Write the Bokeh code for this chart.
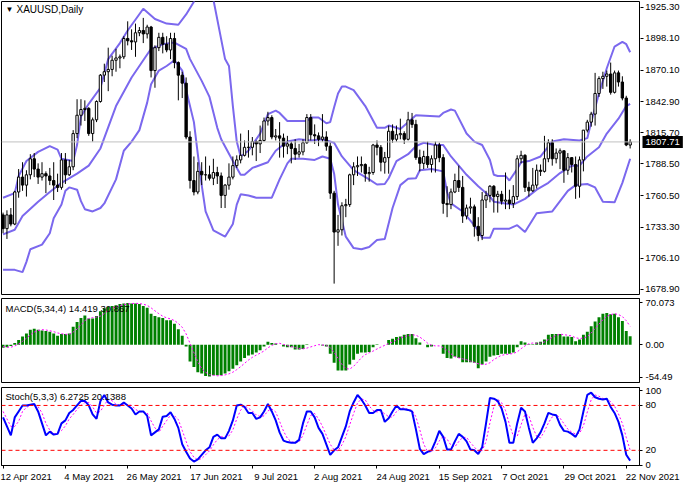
from bokeh.plotting import figure
from bokeh.models import Range1d, FixedTicker, Span, Label
from bokeh.layouts import column, row
from bokeh.embed import file_html
from bokeh.resources import INLINE

# ---------------- data ----------------
symbol_title = "XAUUSD,Daily"
macd_title = "MACD(5,34,4) 14.419 30.867"
stoch_title = "Stoch(5,3,3) 6.2725 20.1388"
last_price = 1807.71

date_tick_idx = [0, 16, 32, 48, 64, 80, 96, 112, 128, 144, 160]
date_tick_labels = ["12 Apr 2021", "4 May 2021", "26 May 2021", "17 Jun 2021", "9 Jul 2021",
                    "2 Aug 2021", "24 Aug 2021", "15 Sep 2021", "7 Oct 2021", "29 Oct 2021",
                    "22 Nov 2021"]
price_ticks = [1678.90, 1706.10, 1733.30, 1760.50, 1788.50, 1815.70, 1842.90, 1870.10, 1898.10, 1925.30]
price_tick_labels = ["1678.90", "1706.10", "1733.30", "1760.50", "1788.50", "1815.70",
                     "1842.90", "1870.10", "1898.10", "1925.30"]
macd_ticks = [-54.49, 0.0, 70.073]
macd_tick_labels = ["-54.49", "0.00", "70.073"]
stoch_ticks = [0, 20, 80, 100]
stoch_tick_labels = ["0", "20", "80", "100"]
stoch_levels = [20, 80]

open_ = [1744, 1732, 1744, 1736, 1764, 1777, 1770, 1779, 1793, 1784,
         1777, 1780, 1778, 1774, 1770, 1768, 1792, 1779, 1786, 1815,
         1831, 1836, 1837, 1815, 1827, 1843, 1866, 1869, 1871, 1879,
         1881, 1882, 1898, 1896, 1895, 1903, 1905, 1902, 1908, 1870,
         1890, 1899, 1893, 1888, 1898, 1877, 1866, 1859, 1812, 1774,
         1764, 1782, 1779, 1779, 1776, 1781, 1778, 1761, 1770, 1777,
         1787, 1792, 1796, 1803, 1803, 1808, 1806, 1809, 1826, 1829,
         1812, 1813, 1811, 1804, 1806, 1802, 1797, 1799, 1807, 1829,
         1814, 1813, 1810, 1812, 1804, 1763, 1729, 1731, 1752, 1753,
         1779, 1786, 1787, 1788, 1780, 1781, 1805, 1803, 1790, 1794,
         1817, 1810, 1814, 1815, 1810, 1827, 1823, 1794, 1789, 1795,
         1788, 1793, 1805, 1794, 1754, 1753, 1764, 1774, 1768, 1743,
         1750, 1751, 1734, 1726, 1757, 1761, 1769, 1760, 1762, 1756,
         1757, 1754, 1760, 1793, 1796, 1768, 1765, 1770, 1783, 1782,
         1793, 1807, 1793, 1798, 1800, 1783, 1794, 1788, 1769, 1792,
         1818, 1825, 1832, 1850, 1863, 1865, 1867, 1851, 1868, 1860,
         1846, 1805]
high = [1746, 1748, 1750, 1765, 1784, 1790, 1783, 1797, 1798, 1789,
        1790, 1782, 1785, 1790, 1780, 1798, 1798, 1792, 1818, 1845,
        1845, 1844, 1838, 1829, 1844, 1867, 1876, 1890, 1883, 1889,
        1884, 1900, 1913, 1906, 1911, 1908, 1916, 1910, 1909, 1892,
        1903, 1903, 1900, 1903, 1903, 1878, 1869, 1864, 1817, 1795,
        1790, 1790, 1795, 1787, 1793, 1786, 1781, 1771, 1789, 1795,
        1796, 1815, 1809, 1818, 1812, 1809, 1822, 1829, 1834, 1831,
        1819, 1825, 1815, 1813, 1808, 1810, 1806, 1810, 1832, 1832,
        1823, 1816, 1832, 1817, 1807, 1765, 1744, 1755, 1758, 1780,
        1790, 1795, 1795, 1789, 1786, 1806, 1809, 1805, 1799, 1822,
        1823, 1822, 1828, 1817, 1834, 1833, 1827, 1801, 1800, 1808,
        1796, 1808, 1807, 1797, 1769, 1767, 1780, 1787, 1778, 1753,
        1759, 1753, 1742, 1764, 1765, 1770, 1770, 1765, 1765, 1781,
        1766, 1770, 1796, 1800, 1797, 1773, 1785, 1788, 1788, 1813,
        1810, 1810, 1802, 1802, 1800, 1798, 1794, 1795, 1795, 1818,
        1827, 1834, 1868, 1865, 1869, 1870, 1877, 1870, 1870, 1865,
        1848, 1810]
low = [1728, 1723, 1734, 1735, 1759, 1765, 1760, 1775, 1777, 1771,
       1774, 1763, 1770, 1757, 1764, 1766, 1771, 1778, 1783, 1811,
       1822, 1826, 1813, 1808, 1825, 1842, 1860, 1852, 1865, 1869,
       1872, 1880, 1892, 1888, 1882, 1900, 1894, 1898, 1864, 1855,
       1887, 1885, 1886, 1880, 1872, 1844, 1846, 1810, 1767, 1761,
       1762, 1770, 1774, 1774, 1770, 1771, 1750, 1750, 1766, 1775,
       1785, 1789, 1795, 1794, 1796, 1791, 1798, 1808, 1822, 1810,
       1809, 1794, 1794, 1797, 1789, 1792, 1794, 1796, 1806, 1809,
       1806, 1804, 1808, 1800, 1758, 1684, 1717, 1726, 1742, 1751,
       1770, 1778, 1781, 1773, 1773, 1779, 1796, 1782, 1780, 1780,
       1807, 1808, 1810, 1806, 1809, 1820, 1792, 1782, 1784, 1785,
       1781, 1781, 1790, 1745, 1742, 1749, 1763, 1764, 1737, 1740,
       1745, 1725, 1721, 1722, 1750, 1755, 1746, 1746, 1753, 1749,
       1749, 1750, 1757, 1789, 1764, 1760, 1764, 1767, 1778, 1781,
       1790, 1787, 1789, 1784, 1772, 1779, 1781, 1758, 1759, 1782,
       1816, 1821, 1822, 1847, 1854, 1856, 1849, 1850, 1856, 1844,
       1804, 1802]
close = [1732, 1744, 1736, 1764, 1777, 1770, 1779, 1793, 1784, 1777,
         1780, 1778, 1774, 1770, 1768, 1792, 1779, 1786, 1815, 1831,
         1836, 1837, 1815, 1827, 1843, 1866, 1869, 1871, 1879, 1881,
         1882, 1898, 1896, 1895, 1903, 1905, 1902, 1908, 1870, 1890,
         1899, 1893, 1888, 1898, 1877, 1866, 1859, 1812, 1774, 1764,
         1782, 1779, 1779, 1776, 1781, 1778, 1761, 1770, 1777, 1787,
         1792, 1796, 1803, 1803, 1808, 1806, 1809, 1826, 1829, 1812,
         1813, 1811, 1804, 1806, 1802, 1797, 1799, 1807, 1829, 1814,
         1813, 1810, 1812, 1804, 1763, 1729, 1731, 1752, 1753, 1779,
         1786, 1787, 1788, 1780, 1781, 1805, 1803, 1790, 1794, 1817,
         1810, 1814, 1815, 1810, 1827, 1823, 1794, 1789, 1795, 1788,
         1793, 1805, 1794, 1754, 1753, 1764, 1774, 1768, 1743, 1750,
         1751, 1734, 1726, 1757, 1761, 1769, 1760, 1762, 1756, 1757,
         1754, 1760, 1793, 1796, 1768, 1765, 1770, 1783, 1782, 1793,
         1807, 1793, 1798, 1800, 1783, 1794, 1788, 1769, 1792, 1818,
         1825, 1832, 1850, 1863, 1865, 1867, 1851, 1868, 1860, 1846,
         1805, 1807.71]

bb_upper_idx = [0, 3, 4, 6, 9, 12, 14, 15, 18, 19, 20, 22, 25, 27, 30, 32, 36, 39, 42, 45,
                47, 49, 50, 51, 52, 53, 54, 57, 58, 59, 60, 61, 63, 66, 68, 70, 71, 73, 78, 79,
                81, 83, 84, 85, 86, 87, 88, 90, 93, 96, 98, 99, 102, 105, 106, 112, 113, 115, 116, 119,
                121, 123, 125, 126, 127, 129, 130, 132, 133, 135, 138, 141, 144, 148, 150, 151, 153, 155, 157, 159,
                160, 161]
bb_upper = [1759, 1763, 1778, 1791, 1799, 1804, 1801, 1793, 1791, 1805,
            1830, 1841, 1855, 1880, 1894, 1905, 1924, 1915, 1911, 1910,
            1919, 1930, 1944, 1958, 1960, 1946, 1932, 1880, 1874, 1839,
            1808, 1795, 1800, 1815, 1832, 1835, 1833, 1826, 1826, 1829,
            1829, 1824, 1825, 1838, 1850, 1856, 1856, 1853, 1839, 1820,
            1820, 1822, 1819, 1828, 1831, 1830, 1833, 1836, 1835, 1815,
            1808, 1805, 1792, 1779, 1778, 1778, 1774, 1784, 1790, 1791,
            1795, 1808, 1810, 1809, 1811, 1825, 1850, 1872, 1891, 1895,
            1893, 1886]
bb_mid_idx = [0, 3, 5, 9, 12, 15, 19, 22, 25, 29, 33, 38, 41, 44, 47, 48, 51, 53, 55, 56,
              59, 61, 62, 64, 68, 70, 73, 76, 79, 82, 85, 87, 90, 94, 96, 98, 99, 101, 104, 106,
              108, 111, 113, 115, 119, 122, 125, 126, 129, 131, 134, 137, 140, 143, 146, 148, 150, 153, 155, 158,
              160, 161]
bb_mid = [1727, 1731, 1743, 1755.5, 1764, 1772, 1780, 1787, 1802, 1839,
          1864, 1889, 1893, 1894.5, 1889, 1880, 1861, 1847, 1820, 1810,
          1791, 1779, 1779, 1785, 1790, 1800, 1808, 1810, 1809, 1810,
          1807, 1795, 1783, 1775, 1770.5, 1771, 1776, 1791, 1797, 1804,
          1807, 1805, 1805, 1795, 1779, 1769, 1760, 1755.5, 1754, 1753,
          1758, 1766, 1772, 1780.5, 1787, 1787, 1795, 1803, 1815, 1828,
          1839, 1841]
bb_low_idx = [0, 3, 5, 6, 7, 10, 12, 13, 15, 16, 17, 19, 20, 21, 23, 25, 26, 29, 31, 33,
              35, 36, 37, 38, 40, 42, 44, 46, 47, 49, 50, 51, 52, 54, 57, 59, 60, 61, 63, 65,
              69, 71, 73, 74, 77, 80, 82, 84, 85, 86, 88, 90, 92, 94, 96, 98, 100, 102, 104, 106,
              107, 110, 113, 114, 115, 118, 120, 122, 123, 125, 126, 130, 132, 134, 137, 141, 145, 147, 150, 152,
              154, 157, 159, 161]
bb_low = [1696, 1696, 1694, 1703, 1714, 1718, 1728, 1741, 1753, 1765,
          1768, 1766, 1756, 1749, 1747, 1750, 1754, 1775, 1800, 1808,
          1818, 1830, 1842, 1858, 1870, 1874, 1879, 1870, 1853, 1825,
          1797, 1770, 1747, 1730.5, 1725, 1736, 1753, 1762, 1761, 1759,
          1759, 1775, 1789, 1793, 1793, 1792, 1795, 1793, 1780, 1753,
          1725, 1715, 1714, 1716, 1722, 1723, 1750, 1770, 1775.5, 1776,
          1783, 1784, 1782, 1764, 1754, 1747, 1739, 1730.5, 1724, 1724,
          1732, 1732, 1735, 1729, 1745.5, 1747, 1765, 1770, 1771, 1768,
          1755.5, 1755, 1772, 1793]

macd_hist = [-5, -4, -2, 3, 8, 14, 19, 25, 27, 25,
             24, 23, 22, 19, 15, 18, 18, 19, 30, 38,
             45, 49, 44, 44, 48, 56, 61, 63, 65, 66,
             68, 69, 70, 69, 69, 68, 65, 62, 52, 48,
             46, 45, 41, 41, 35, 26, 15, -3, -28, -37,
             -46, -48, -52, -53, -51, -51, -51, -48, -44, -40,
             -34, -28, -22, -18, -16, -13, -9, -3, 5, 3,
             2, 0, -3, -4, -4, -8, -8, -7, 1, 0,
             0, 0, -1, -3, -15, -30, -43, -43, -43, -33,
             -25, -15, -13, -13, -12, -4, 1, 0, 0, 8,
             10, 13, 14, 17, 18, 18, 11, 4, 0, -4,
             -3, 0, 0, -15, -22, -23, -20, -22, -29, -29,
             -29, -30, -39, -33, -28, -20, -18, -17, -15, -15,
             -15, -13, -4, 6, 4, 1, 1, 4, 5, 9,
             17, 18, 18, 18, 14, 14, 13, 6, 9, 17,
             22, 31, 39, 46, 52, 53, 51, 52, 46, 40,
             23, 14.419]
macd_signal = [-3, -4, -4, -2, 1.3, 5.8, 11, 16.5, 21.3, 24,
               25.3, 24.8, 23.5, 22, 19.8, 18.5, 17.5, 17.5, 21.3, 26.3,
               33, 40.5, 44, 45.5, 46.3, 48, 52.3, 57, 61.3, 63.8,
               65.5, 67, 68.3, 69, 69.3, 69, 67.8, 66, 61.8, 56.8,
               52, 47.8, 45, 43.3, 40.5, 35.8, 29.3, 18.3, 2.5, -13.3,
               -28.5, -39.8, -45.8, -49.8, -51, -51.8, -51.5, -50.3, -48.5, -45.8,
               -41.5, -36.5, -31, -25.5, -21, -17.3, -14, -10.3, -5, -1,
               1.8, 2.5, 0.5, -1.3, -2.8, -4.8, -6, -6.8, -5.5, -3.5,
               -1.5, 0.3, -0.3, -1, -4.8, -12.3, -22.8, -32.8, -39.8, -40.5,
               -36, -29, -21.5, -16.5, -13.3, -10.5, -7, -3.8, -0.8, 2.3,
               4.5, 7.8, 11.3, 13.5, 15.5, 16.8, 16, 12.8, 8.3, 2.8,
               -0.8, -1.8, -1.8, -4.5, -9.3, -15, -20, -21.8, -23.5, -25,
               -27.3, -29.3, -31.8, -32.8, -32.5, -30, -24.8, -20.8, -17.5, -16.3,
               -15.5, -14.5, -11.8, -6.5, -1.8, 1.8, 3, 2.5, 2.8, 4.8,
               8.8, 12.3, 15.5, 17.8, 17, 16, 14.8, 11.8, 10.5, 11.3,
               13.5, 19.8, 27.3, 34.5, 42, 47.5, 50.5, 52, 50.5, 47.3,
               40.3, 30.867]

stoch_k = [64, 52, 40, 64, 72, 80, 80, 81, 82, 72,
           56, 40, 45, 41, 42, 56, 60, 70, 74, 80,
           86, 86, 80, 68, 62, 86, 94, 84, 81, 80,
           80, 84, 80, 76, 68, 72, 72, 66, 40, 44,
           48, 65, 66, 71, 62, 50, 28, 18, 9, 5,
           8, 14, 20, 24, 38, 41, 36, 36, 46, 60,
           80, 81, 78, 70, 70, 62, 64, 72, 82, 72,
           60, 44, 33, 31, 30, 30, 34, 56, 72, 72,
           64, 50, 42, 28, 14, 20, 24, 38, 52, 72,
           84, 94, 88, 80, 70, 70, 74, 74, 58, 63,
           72, 80, 75, 75, 74, 72, 48, 22, 15, 18,
           20, 32, 46, 38, 21, 21, 32, 42, 38, 32,
           21, 20, 15, 24, 56, 90, 89, 86, 76, 58,
           30, 30, 56, 77, 72, 50, 30, 36, 44, 56,
           70, 68, 67, 54, 46, 45, 42, 38, 48, 72,
           94, 97, 91, 89, 88, 89, 78, 70, 58, 40,
           14, 6.2725]
stoch_d = [72, 62, 52, 52, 58.7, 72, 77.3, 80.3, 81, 78.3,
           70, 56, 47, 42, 42.7, 46.3, 52.7, 62, 68, 74.7,
           80, 84, 84, 78, 70, 72, 80.7, 88, 86.3, 81.7,
           80.3, 81.3, 81.3, 80, 74.7, 72, 70.7, 70, 59.3, 50,
           44, 52.3, 59.7, 67.3, 66.3, 61, 46.7, 32, 18.3, 10.7,
           7.3, 9, 14, 19.3, 27.3, 34.3, 38.3, 37.7, 39.3, 47.3,
           62, 73.7, 79.7, 76.3, 72.7, 67.3, 65.3, 66, 72.7, 75.3,
           71.3, 58.7, 45.7, 36, 31.3, 30.3, 31.3, 40, 54, 66.7,
           69.3, 62, 52, 40, 28, 20.7, 19.3, 27.3, 38, 54,
           69.3, 83.3, 88.7, 87.3, 79.3, 73.3, 71.3, 72.7, 68.7, 65,
           64.3, 71.7, 75.7, 76.7, 74.7, 73.7, 64.7, 47.3, 28.3, 18.3,
           17.7, 23.3, 32.7, 38.7, 35, 26.7, 24.7, 31.7, 37.3, 37.3,
           30.3, 24.3, 18.7, 19.7, 31.7, 56.7, 78.3, 88.3, 83.7, 73.3,
           54.7, 39.3, 38.7, 54.3, 68.3, 66.3, 50.7, 38.7, 36.7, 45.3,
           56.7, 64.7, 68.3, 63, 55.7, 48.3, 44.3, 41.7, 42.7, 52.7,
           71.3, 87.7, 94, 92.3, 89.3, 88.7, 85, 79, 68.7, 56,
           37.3, 20.1388]

# ---------------- styling ----------------
FONT = "Liberation Sans"
FS = "9.5px"
BB_COLOR = "#7b68ee"
W = 684
SCALE_W = 44
X0, X1 = -0.4, 163.4
x_range = Range1d(X0, X1)


def style_axis(ax):
    ax.major_tick_line_color = "black"
    ax.minor_tick_line_color = None
    ax.major_label_text_font = FONT
    ax.major_label_text_font_size = FS
    ax.major_label_text_color = "black"


def make_fig(w, h, y_range, top, bottom, with_x, y_loc, border_right):
    p = figure(width=w, height=h, x_range=x_range, y_range=y_range,
               y_axis_location=y_loc, x_axis_location=("below" if with_x else None),
               toolbar_location=None, output_backend="svg",
               min_border_left=1, min_border_right=border_right,
               min_border_top=top, min_border_bottom=bottom)
    p.grid.visible = False
    p.outline_line_color = "black"
    p.outline_line_width = 1
    p.background_fill_color = "white"
    p.border_fill_color = "white"
    if y_loc is not None:
        ax = p.yaxis[0]
        style_axis(ax)
        ax.axis_line_color = "black"
        ax.major_tick_in = 0
        ax.major_tick_out = 3
        ax.major_label_standoff = 3
    return p


# ---------------- main price panel (plot area + its own price-scale strip) ----------------
MAIN_LO, MAIN_HI = 1674.5, 1930.3
main_y = Range1d(MAIN_LO, MAIN_HI)
idx = list(range(len(close)))
p1 = make_fig(W - SCALE_W, 296, main_y, 1, 2, False, None, 1)

p1.add_layout(Span(location=last_price, dimension="width", line_color="#c0c0c0", line_width=1))

p1.line(bb_upper_idx, bb_upper, line_color=BB_COLOR, line_width=2)
p1.line(bb_mid_idx, bb_mid, line_color=BB_COLOR, line_width=2)
p1.line(bb_low_idx, bb_low, line_color=BB_COLOR, line_width=2)

p1.segment(x0=idx, y0=low, x1=idx, y1=high, line_color="black", line_width=1)
up_x = [i for i in idx if close[i] >= open_[i]]
dn_x = [i for i in idx if close[i] < open_[i]]
p1.vbar(x=up_x, width=0.6, top=[close[i] for i in up_x], bottom=[open_[i] for i in up_x],
        fill_color="white", line_color="black", line_width=1)
p1.vbar(x=dn_x, width=0.6, top=[open_[i] for i in dn_x], bottom=[close[i] for i in dn_x],
        fill_color="black", line_color="black", line_width=1)

p1.add_layout(Label(x=X0, y=MAIN_HI, x_offset=4, y_offset=-3, text="\u25bc",
                    text_font=FONT, text_font_size="8px", text_baseline="top", text_color="black"))
p1.add_layout(Label(x=X0, y=MAIN_HI, x_offset=15, y_offset=-2, text=symbol_title,
                    text_font=FONT, text_font_size="10px", text_baseline="top", text_color="black"))

# price scale strip: the axis sits at its left edge, ticks point right, labels to the right
ps = figure(width=SCALE_W, height=296, x_range=Range1d(0, 1), y_range=main_y,
            y_axis_location="left", x_axis_location=None,
            toolbar_location=None, output_backend="svg",
            min_border_left=0, min_border_right=0, min_border_top=1, min_border_bottom=2)
ps.grid.visible = False
ps.outline_line_color = None
ps.background_fill_color = "white"
ps.border_fill_color = "white"
pax = ps.yaxis[0]
style_axis(pax)
pax.ticker = FixedTicker(ticks=price_ticks)
pax.major_label_overrides = dict(zip(price_ticks, price_tick_labels))
pax.axis_line_color = None
pax.major_tick_out = 0
pax.major_tick_in = 3
pax.major_label_standoff = -39
ps.add_layout(Label(x=0, y=last_price, x_offset=2, text="%.2f" % last_price,
                    text_font=FONT, text_font_size=FS, text_baseline="middle", text_align="left",
                    text_color="white", background_fill_color="black", padding=3))

# ---------------- MACD panel ----------------
MACD_LO, MACD_HI = -63, 77.4
p2 = make_fig(W, 88, Range1d(MACD_LO, MACD_HI), 2, 2, False, "right", SCALE_W + 1)
p2.yaxis.ticker = FixedTicker(ticks=macd_ticks)
p2.yaxis.major_label_overrides = dict(zip(macd_ticks, macd_tick_labels))
p2.vbar(x=idx, width=0.75, top=macd_hist, bottom=0, fill_color="#008000", line_color=None)
p2.line(idx, macd_signal, line_color="#ff00ff", line_width=1, line_dash="2 2")
p2.add_layout(Label(x=X0, y=MACD_HI, x_offset=4, y_offset=-4, text=macd_title,
                    text_font=FONT, text_font_size=FS, text_baseline="top", text_color="black"))

# ---------------- Stochastic panel ----------------
ST_LO, ST_HI = -0.3, 104
p3 = make_fig(W, 100, Range1d(ST_LO, ST_HI), 3, 18, True, "right", SCALE_W + 1)
p3.yaxis.ticker = FixedTicker(ticks=stoch_ticks)
p3.yaxis.major_label_overrides = dict(zip(stoch_ticks, stoch_tick_labels))
for lv in stoch_levels:
    p3.add_layout(Span(location=lv, dimension="width", line_color="#ff0000",
                       line_width=1, line_dash="4 3"))
p3.line(idx, stoch_d, line_color="#ff00ff", line_width=1, line_dash="2 2")
p3.line(idx, stoch_k, line_color="#0000ff", line_width=2)
p3.add_layout(Label(x=X0, y=ST_HI, x_offset=4, y_offset=-3, text=stoch_title,
                    text_font=FONT, text_font_size=FS, text_baseline="top", text_color="black"))

# date labels start at their bar (as in the terminal): pad on the left with no-break spaces;
# the first one already sits at the left edge
NBSP = "\u00a0"
date_label_text = [t if k == 0 else NBSP * (2 * len(t) - 2) + t
                   for k, t in enumerate(date_tick_labels)]
xa = p3.xaxis[0]
style_axis(xa)
xa.ticker = FixedTicker(ticks=date_tick_idx)
xa.major_label_overrides = dict(zip(date_tick_idx, date_label_text))
xa.axis_line_color = "black"
xa.major_tick_in = 0
xa.major_tick_out = 3
xa.major_label_standoff = 2

layout = column(row(p1, ps, spacing=0), p2, p3, spacing=0)
open("out.html", "w").write(file_html(layout, INLINE))
